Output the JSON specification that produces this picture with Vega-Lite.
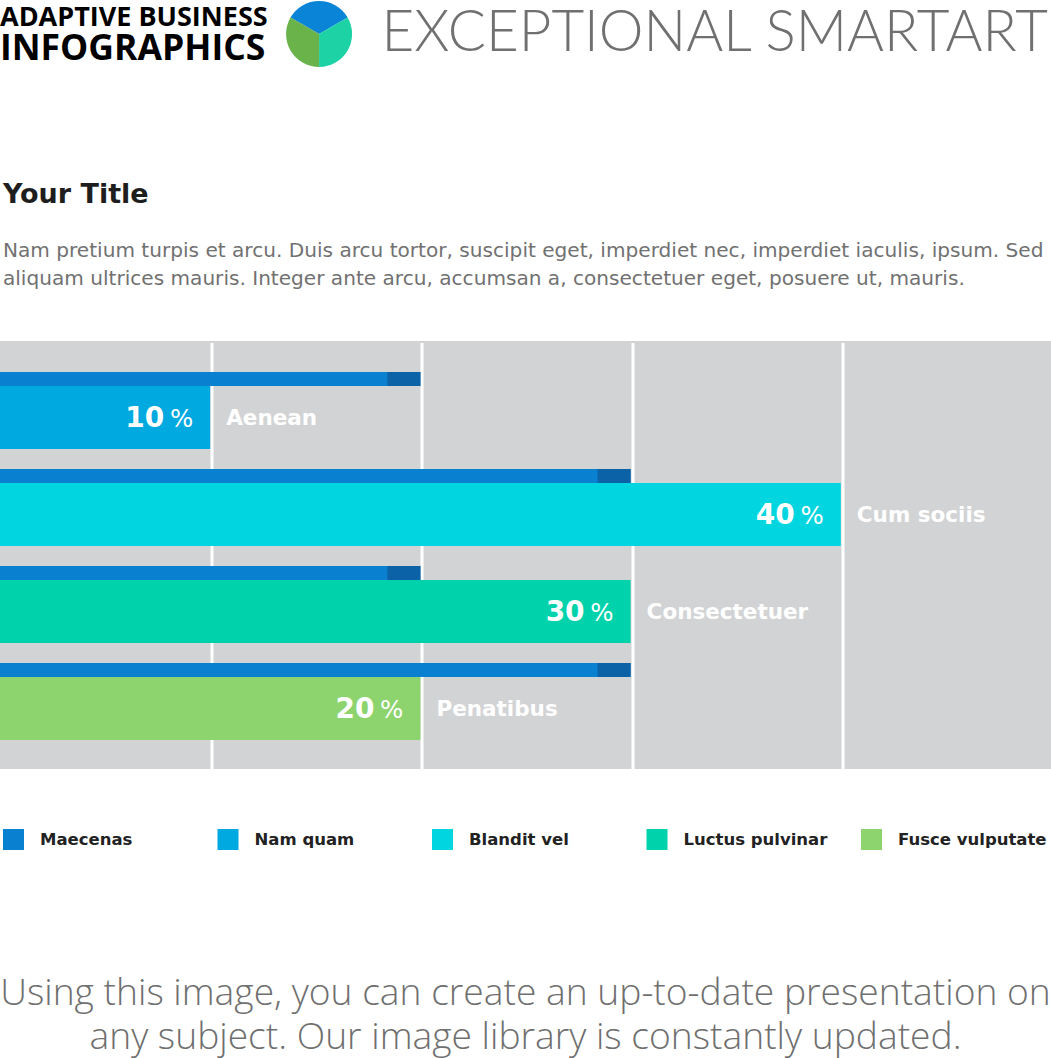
{
  "$schema": "https://vega.github.io/schema/vega-lite/v6.json",
  "width": 1051,
  "height": 428,
  "autosize": {"type": "none"},
  "padding": {"left": 0, "right": 0, "top": 341, "bottom": 289},
  "background": "white",
  "config": {"view": {"fill": "#d2d3d5", "stroke": null}},
  "data": {
    "values": [
      {"category": "Aenean", "row": 1, "series": "Nam quam", "value": 10, "maecenas": 20},
      {"category": "Cum sociis", "row": 2, "series": "Blandit vel", "value": 40, "maecenas": 30},
      {"category": "Consectetuer", "row": 3, "series": "Luctus pulvinar", "value": 30, "maecenas": 20},
      {"category": "Penatibus", "row": 4, "series": "Fusce vulputate", "value": 20, "maecenas": 30}
    ]
  },
  "layer": [
    {
      "mark": {"type": "bar", "orient": "horizontal", "size": 14, "yOffset": -31},
      "encoding": {
        "x": {"field": "maecenas", "type": "quantitative",
          "scale": {"domain": [0, 50], "nice": false, "zero": true, "padding": 0},
          "axis": {"values": [10, 20, 30, 40], "grid": true, "gridColor": "white", "gridWidth": 3, "gridOpacity": 1,
            "domain": false, "ticks": false, "labels": false, "title": null, "translate": 2}},
        "y": {"field": "row", "type": "quantitative",
          "scale": {"domain": [0.29, 4.702], "nice": false, "zero": false, "reverse": true, "padding": 0}, "axis": null},
        "color": {"datum": "Maecenas", "type": "nominal",
          "scale": {"domain": ["Maecenas", "Nam quam", "Blandit vel", "Luctus pulvinar", "Fusce vulputate"],
                    "range": ["#0a80d0", "#00a9e0", "#00d5e0", "#00d2ab", "#8ed46e"]},
          "legend": {"orient": "none", "legendX": 3, "legendY": 488, "direction": "horizontal", "columns": 5,
            "gridAlign": "all", "symbolType": "square", "symbolSize": 441, "symbolStrokeWidth": 0,
            "labelFont": "DejaVu Sans", "labelFontSize": 16.5, "labelFontWeight": "bold", "labelColor": "#222222",
            "labelOffset": 16, "columnPadding": 28.5, "title": null, "padding": 0, "labelLimit": 300}}
      }
    },
    {
      "mark": {"type": "tick", "orient": "vertical", "thickness": 33, "size": 14, "xOffset": -16.5, "yOffset": -31, "color": "#0b62a6", "opacity": 1},
      "encoding": {
        "x": {"field": "maecenas", "type": "quantitative"},
        "y": {"field": "row", "type": "quantitative"}
      }
    },
    {
      "mark": {"type": "bar", "orient": "horizontal", "size": 63, "yOffset": 7.5},
      "encoding": {
        "x": {"field": "value", "type": "quantitative"},
        "y": {"field": "row", "type": "quantitative"},
        "color": {"field": "series", "type": "nominal",
          "legend": {"orient": "none", "legendX": 3, "legendY": 488, "direction": "horizontal", "columns": 5,
            "gridAlign": "all", "symbolType": "square", "symbolSize": 441, "symbolStrokeWidth": 0,
            "labelFont": "DejaVu Sans", "labelFontSize": 16.5, "labelFontWeight": "bold", "labelColor": "#222222",
            "labelOffset": 16, "columnPadding": 28.5, "title": null, "padding": 0, "labelLimit": 300}}
      }
    },
    {
      "mark": {"type": "text", "align": "right", "baseline": "alphabetic", "dx": -46, "dy": 17.5, "font": "DejaVu Sans", "fontSize": 28, "fontWeight": "bold", "color": "white"},
      "encoding": {
        "x": {"field": "value", "type": "quantitative"},
        "y": {"field": "row", "type": "quantitative"},
        "text": {"field": "value", "type": "quantitative"}
      }
    },
    {
      "mark": {"type": "text", "align": "right", "baseline": "alphabetic", "dx": -17, "dy": 17.5, "font": "DejaVu Sans", "fontSize": 24.5, "fontWeight": "normal", "color": "white", "text": "%"},
      "encoding": {
        "x": {"field": "value", "type": "quantitative"},
        "y": {"field": "row", "type": "quantitative"}
      }
    },
    {
      "mark": {"type": "text", "align": "left", "baseline": "alphabetic", "dx": 16, "dy": 15.5, "font": "DejaVu Sans", "fontSize": 21.5, "fontWeight": "bold", "color": "white"},
      "encoding": {
        "x": {"field": "value", "type": "quantitative"},
        "y": {"field": "row", "type": "quantitative"},
        "text": {"field": "category", "type": "nominal"}
      }
    },
    {
      "data": {"values": [{"slice": 1, "share": 1}, {"slice": 2, "share": 1}, {"slice": 3, "share": 1}]},
      "mark": {"type": "arc", "outerRadius": 33},
      "encoding": {
        "x": {"datum": 15.18, "type": "quantitative"},
        "y": {"datum": -2.875, "type": "quantitative"},
        "theta": {"field": "share", "type": "quantitative", "stack": true, "scale": {"range": [-1.0472, 5.2360]}},
        "order": {"field": "slice", "type": "quantitative"},
        "fill": {"field": "slice", "type": "nominal", "scale": {"domain": [1, 2, 3], "range": ["#0a84d6", "#1dd3a5", "#6ab24a"]}, "legend": null}
      }
    },
    {
      "data": {"values": [{}]},
      "mark": {"type": "text", "align": "left", "baseline": "alphabetic", "font": "Open Sans", "fontWeight": "bold", "fontSize": 27, "color": "#000000", "text": "ADAPTIVE BUSINESS"},
      "encoding": {"x": {"datum": 0, "type": "quantitative"}, "y": {"datum": -2.957, "type": "quantitative"}}
    },
    {
      "data": {"values": [{}]},
      "mark": {"type": "text", "align": "left", "baseline": "alphabetic", "font": "Open Sans", "fontWeight": "bold", "fontSize": 35.5, "color": "#000000", "text": "INFOGRAPHICS"},
      "encoding": {"x": {"datum": 0, "type": "quantitative"}, "y": {"datum": -2.607, "type": "quantitative"}}
    },
    {
      "data": {"values": [{}]},
      "mark": {"type": "text", "align": "left", "baseline": "alphabetic", "font": "Lato", "fontWeight": 300, "fontSize": 56.5, "color": "#707070", "text": "EXCEPTIONAL SMARTART"},
      "encoding": {"x": {"datum": 18.15, "type": "quantitative"}, "y": {"datum": -2.7, "type": "quantitative"}}
    },
    {
      "data": {"values": [{}]},
      "mark": {"type": "text", "align": "left", "baseline": "alphabetic", "font": "DejaVu Sans", "fontWeight": "bold", "fontSize": 27, "color": "#1e1e1e", "text": "Your Title"},
      "encoding": {"x": {"datum": 0.14, "type": "quantitative"}, "y": {"datum": -1.133, "type": "quantitative"}}
    },
    {
      "data": {"values": [{}]},
      "mark": {"type": "text", "align": "left", "baseline": "alphabetic", "font": "DejaVu Sans", "fontSize": 20.1, "lineHeight": 28, "color": "#717171",
        "text": ["Nam pretium turpis et arcu. Duis arcu tortor, suscipit eget, imperdiet nec, imperdiet iaculis, ipsum. Sed", "aliquam ultrices mauris. Integer ante arcu, accumsan a, consectetuer eget, posuere ut, mauris."]},
      "encoding": {"x": {"datum": 0.14, "type": "quantitative"}, "y": {"datum": -0.576, "type": "quantitative"}}
    },
    {
      "data": {"values": [{}]},
      "mark": {"type": "text", "align": "center", "baseline": "alphabetic", "font": "Open Sans", "fontWeight": 300, "fontSize": 37.2, "lineHeight": 44, "color": "#6f6f6f",
        "text": ["Using this image, you can create an up-to-date presentation on", "any subject. Our image library is constantly updated."]},
      "encoding": {"x": {"datum": 25, "type": "quantitative"}, "y": {"datum": 7.135, "type": "quantitative"}}
    }
  ]
}
